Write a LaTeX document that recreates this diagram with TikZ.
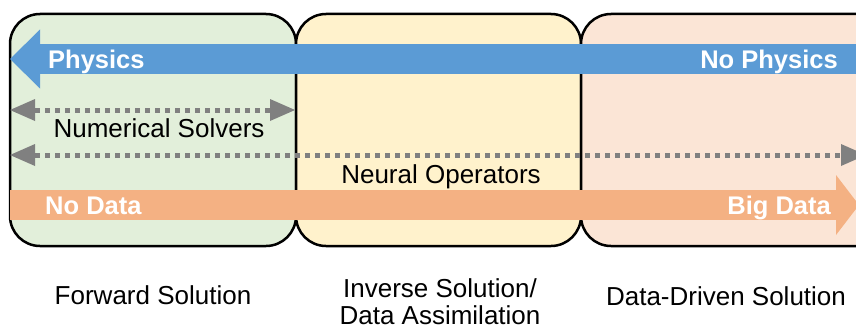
\documentclass[tikz,border=0pt]{standalone}
\usepackage{fontspec}
\setmainfont{Liberation Sans}
\usetikzlibrary{positioning, arrows.meta}
\definecolor{greenbox}{HTML}{E2EFDA}
\definecolor{yellowbox}{HTML}{FFF2CC}
\definecolor{pinkbox}{HTML}{FBE5D6}
\definecolor{physblue}{HTML}{5B9BD5}
\definecolor{dataorange}{HTML}{F4B183}
\definecolor{solvergray}{HTML}{808080}

\begin{document}
\begin{tikzpicture}[x=1pt, y=-1pt,
    region/.style={draw=black, line width=2.5pt, rounded corners=30pt, minimum height=232pt, inner sep=0},
    bigarrow/.style={line width=30pt},
    dotarrow/.style={solvergray, line width=5pt, dash pattern=on 5pt off 5pt,
        {Triangle[length=25pt, width=22pt, line width=0pt]}-{Triangle[length=25pt, width=22pt, line width=0pt]}},
    banner/.style={text=white, font=\fontsize{25.5}{30}\selectfont\bfseries, inner sep=0},
    lbl/.style={font=\fontsize{26}{27}\selectfont, inner sep=0, align=center}]
    \clip (0,0) rectangle (856,329);

    % the three regions
    \node[region, fill=greenbox, minimum width=286pt] (forward) at (153,130) {};
    \node[region, fill=yellowbox, minimum width=285pt] (inverse) at (438.5,130) {};
    \node[region, fill=pinkbox, minimum width=319pt] (driven) at (740.5,130) {};

    % physics / data axes
    \coordinate (physE) at (880,59);
    \coordinate (physW) at (10,59);
    \draw[bigarrow, physblue, -{Triangle[length=30pt, width=59pt, line width=0pt]}] (physE) -- (physW);
    \coordinate (dataW) at (10,205);
    \coordinate (dataE) at (859,205);
    \draw[bigarrow, dataorange, -{Triangle[length=23pt, width=60pt, line width=0pt]}] (dataW) -- (dataE);

    \node[banner, anchor=base west] (physics) at (48,68) {Physics};
    \node[banner, anchor=base east] (nophysics) at (838,68) {No Physics};
    \node[banner, anchor=base west] (nodata) at (45,214) {No Data};
    \node[banner, anchor=base east] (bigdata) at (831,214) {Big Data};

    % method ranges
    \coordinate (numW) at (10,110);
    \coordinate (numE) at (295,110);
    \draw[dotarrow] (numW) -- (numE);
    \node[lbl, anchor=base] (numerical) at (159,137) {Numerical Solvers};
    \coordinate (neuW) at (10,155);
    \coordinate (neuE) at (866,155);
    \draw[dotarrow] (neuW) -- (neuE);
    \node[lbl, anchor=base] (neural) at (441,183) {Neural Operators};

    % solution types
    \node[lbl, anchor=base] (fwdlabel) at (153,304) {Forward Solution};
    \node[lbl, anchor=north] (invlabel) at (440,278) {Inverse Solution/\\Data Assimilation};
    \node[lbl, anchor=base] (ddlabel) at (726,305) {Data-Driven Solution};
\end{tikzpicture}
\end{document}
